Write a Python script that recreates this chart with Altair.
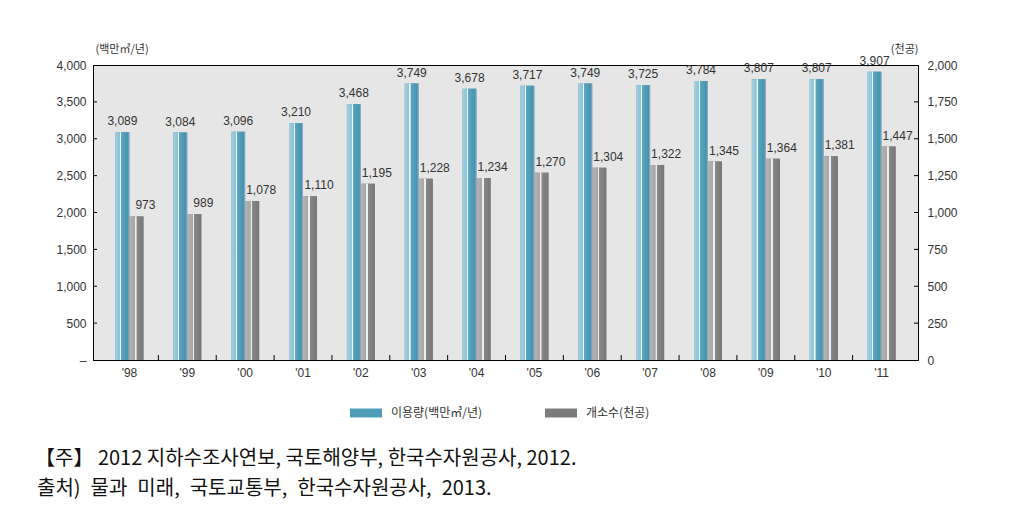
import altair as alt
import pandas as pd

# ---------------- data ----------------
years = ["'98", "'99", "'00", "'01", "'02", "'03", "'04", "'05", "'06", "'07", "'08", "'09", "'10", "'11"]
usage = [3089, 3084, 3096, 3210, 3468, 3749, 3678, 3717, 3749, 3725, 3784, 3807, 3807, 3907]
wells = [973, 989, 1078, 1110, 1195, 1228, 1234, 1270, 1304, 1322, 1345, 1364, 1381, 1447]
left_ticks = [500, 1000, 1500, 2000, 2500, 3000, 3500]
right_ticks = [250, 500, 750, 1000, 1250, 1500, 1750]
series_names = ["이용량(백만㎥/년)", "개소수(천공)"]
series_colors = ["#4f9cb8", "#7b7b7b"]
left_title = "(백만㎥/년)"
right_title = "(천공)"
notes = [
    "【주】 2012 지하수조사연보, 국토해양부, 한국수자원공사, 2012.",
    "출처)\u2002물과\u2002미래,\u2002국토교통부,\u2002한국수자원공사,\u20022013.",
]

# ---------------- layout / style ----------------
W, H = 825, 295
PO = 0.13
step = W / (len(years) + 2 * PO)
BW = 14
NUM_FONT = "Liberation Sans"
KR_FONT = "Noto Sans CJK KR"
TXT = "#333333"

df = pd.DataFrame({"year": years, "usage": usage, "wells": wells,
                   "s1": series_names[0], "s2": series_names[1]})
df_lt = pd.DataFrame({"usage": left_ticks})
df_rt = pd.DataFrame({"wells": right_ticks})
df_xt = pd.DataFrame({"year": years[1:]})

xscale = alt.Scale(domain=years, paddingInner=0, paddingOuter=PO)
xenc = alt.X("year:N", scale=xscale, sort=years,
             axis=alt.Axis(title=None, labelAngle=0, ticks=False, domainColor="#000",
                           labelPadding=7, labelFont=NUM_FONT, labelFontSize=12,
                           labelColor=TXT))

color_scale = alt.Scale(domain=series_names, range=series_colors)
legend = alt.Legend(orient="none", legendX=257, legendY=332, direction="horizontal",
                    title=None, symbolType="M-1,-0.28H1V0.28H-1Z", symbolSize=1024,
                    symbolStrokeWidth=0, labelFont=KR_FONT, labelFontSize=12,
                    labelColor=TXT, columnPadding=62, labelOffset=9)

yL = alt.Y("usage:Q", scale=alt.Scale(domain=[0, 4000], nice=False),
           axis=alt.Axis(values=list(range(0, 4001, 500)),
                         labelExpr="datum.value == 0 ? '–' : format(datum.value, ',')",
                         ticks=False, grid=False, domainColor="#000", labelPadding=7,
                         labelFont=NUM_FONT, labelFontSize=12, labelColor=TXT,
                         title=left_title, titleAngle=0, titleX=2, titleY=-11,
                         titleAlign="left", titleBaseline="bottom", titleFont=KR_FONT,
                         titleFontSize=11, titleFontWeight="normal", titleColor=TXT))
yR = alt.Y("wells:Q", scale=alt.Scale(domain=[0, 2000], nice=False),
           axis=alt.Axis(orient="right", values=list(range(0, 2001, 250)),
                         labelExpr="format(datum.value, ',')",
                         ticks=False, grid=False, domainColor="#000", labelPadding=9,
                         labelFont=NUM_FONT, labelFontSize=12, labelColor=TXT,
                         title=right_title, titleAngle=0, titleX=0, titleY=-11,
                         titleAlign="right", titleBaseline="bottom", titleFont=KR_FONT,
                         titleFontSize=11, titleFontWeight="normal", titleColor=TXT))

blue_grad = alt.Gradient(gradient="linear", x1=0, x2=1, y1=0, y2=0, stops=[
    alt.GradientStop(offset=0, color="#a3d0e0"),
    alt.GradientStop(offset=0.33, color="#8cc2d5"),
    alt.GradientStop(offset=0.34, color="#effaff"),
    alt.GradientStop(offset=0.41, color="#effaff"),
    alt.GradientStop(offset=0.42, color="#5ba7c1"),
    alt.GradientStop(offset=0.88, color="#4892ae"),
    alt.GradientStop(offset=1, color="#9fb3cf"),
])
gray_grad = alt.Gradient(gradient="linear", x1=0, x2=1, y1=0, y2=0, stops=[
    alt.GradientStop(offset=0, color="#b4b4b4"),
    alt.GradientStop(offset=0.38, color="#a6a6a6"),
    alt.GradientStop(offset=0.39, color="#eeeeee"),
    alt.GradientStop(offset=0.5, color="#eeeeee"),
    alt.GradientStop(offset=0.51, color="#888888"),
    alt.GradientStop(offset=1, color="#777777"),
])

base = alt.Chart(df)

# left (usage) group
blue_bar = base.mark_bar(width=BW, xOffset=-BW / 2).encode(
    x=xenc, y=yL, color=alt.Color("s1:N", scale=color_scale, legend=legend))
blue_face = base.mark_bar(width=BW, xOffset=-BW / 2, fill=blue_grad).encode(x=xenc, y=yL)
blue_lbl = base.mark_text(xOffset=-BW / 2, yOffset=-4, baseline="bottom", font=NUM_FONT,
                          fontSize=12, color=TXT).encode(
    x=xenc, y=yL, text=alt.Text("usage:Q", format=","))
lt_rule = alt.Chart(df_lt).mark_rule(color="#000").encode(
    y=yL, x=alt.value(0), x2=alt.value(4))
left = alt.layer(blue_bar, blue_face, blue_lbl, lt_rule)

# right (wells) group
gray_bar = base.mark_bar(width=BW, xOffset=BW / 2).encode(
    x=xenc, y=yR, color=alt.Color("s2:N", scale=color_scale, legend=legend))
gray_face = base.mark_bar(width=BW, xOffset=BW / 2, fill=gray_grad).encode(x=xenc, y=yR)
gray_lbl = base.mark_text(xOffset=BW + 2, yOffset=-4, baseline="bottom", font=NUM_FONT,
                          fontSize=12, color=TXT).encode(
    x=xenc, y=yR, text=alt.Text("wells:Q", format=","))
rt_rule = alt.Chart(df_rt).mark_rule(color="#000").encode(
    y=yR, x=alt.value(W - 4), x2=alt.value(W))
right = alt.layer(gray_bar, gray_face, gray_lbl, rt_rule)

# x ticks pointing inward between the year bands
xt_rule = alt.Chart(df_xt).mark_rule(color="#000", xOffset=-step / 2).encode(
    x=xenc, y=alt.value(H), y2=alt.value(H - 5))

note1 = alt.Chart(pd.DataFrame({"t": [notes[0]]})).mark_text(
    align="left", baseline="middle", font=KR_FONT, fontSize=20, color="#111").encode(
    text="t:N", x=alt.value(-58), y=alt.value(394))
note2 = alt.Chart(pd.DataFrame({"t": [notes[1]]})).mark_text(
    align="left", baseline="middle", font=KR_FONT, fontSize=20, color="#111").encode(
    text="t:N", x=alt.value(-56), y=alt.value(424))

chart = alt.layer(left, right, xt_rule, note1, note2).resolve_scale(
    y="independent"
).properties(
    width=W, height=H,
    padding={"left": 85, "top": 57, "right": 93, "bottom": 140},
    autosize=alt.AutoSizeParams(type="none"),
    background="white",
).configure_view(stroke="#000", strokeWidth=1, fill="#e6e6e6")

chart.save("out.html", embed_options={"renderer": "svg", "actions": False})
